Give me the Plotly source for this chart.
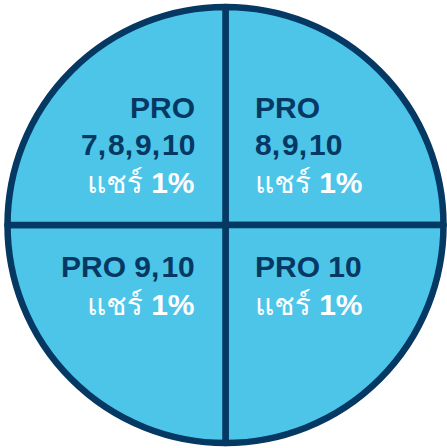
import plotly.graph_objects as go

# ---- data ----
segments = ["PRO 8,9,10", "PRO 10", "PRO 9,10", "PRO 7,8,9,10"]
slice_values = [1, 1, 1, 1]
share_pct = [1, 1, 1, 1]
label_lines = [["PRO", "8,9,10"], ["PRO 10"], ["PRO 9,10"], ["PRO", "7,8,9,10"]]
share_word = "แชร์"

# ---- style ----
W, H = 447, 448
FILL = "#4CC5E9"
NAVY = "#053862"
FONT = "Liberation Sans, Arial, sans-serif"
THAI_FONT = "Loma, Kinnari, Norasi, 'Noto Sans Thai Looped', 'Noto Serif Thai', 'Noto Sans Thai', sans-serif"
FS = 30

fig = go.Figure(go.Pie(
    values=slice_values,
    labels=segments,
    sort=False,
    direction="clockwise",
    rotation=0,
    textinfo="none",
    hoverinfo="label",
    showlegend=False,
    marker=dict(colors=[FILL] * len(segments), line=dict(color=NAVY, width=6.5)),
    domain=dict(x=[7 / W, 1 - 3 / W], y=[5 / H, 1 - 7 / H]),
))


def wide_commas(t):
    return t.replace(",", "<span style=\"letter-spacing:2px\">,</span>")


# quadrant text anchors: (x pixel, align, first-line cap-centre y pixel)
anchors = [
    (253, "left", 106),    # top-right
    (253, "left", 265.5),  # bottom-right
    (197, "right", 265.5), # bottom-left
    (197, "right", 106),   # top-left
]
LINE = 37.5
ann = []
for lines, pct, (px, align, y0) in zip(label_lines, share_pct, anchors):
    rows = [(f"<b>{wide_commas(t)}</b>", NAVY) for t in lines]
    rows.append((f"<span style=\"font-family:{THAI_FONT};font-weight:300\">{share_word}</span> <b>{pct}%</b>", "white"))
    for i, (txt, col) in enumerate(rows):
        py = y0 + i * LINE
        ann.append(dict(
            x=px / W, y=1 - (py + 1) / H, xref="paper", yref="paper",
            text=txt, showarrow=False, xanchor=align, yanchor="middle",
            align=align, font=dict(family=FONT, size=FS, color=col),
        ))

fig.update_layout(
    width=W, height=H, autosize=False,
    margin=dict(l=0, r=0, t=0, b=0),
    paper_bgcolor="white", plot_bgcolor="white",
    annotations=ann,
)
fig.write_html("out.html", config={"displayModeBar": False},
               post_script="document.body.style.margin='0';document.body.style.padding='0';")
